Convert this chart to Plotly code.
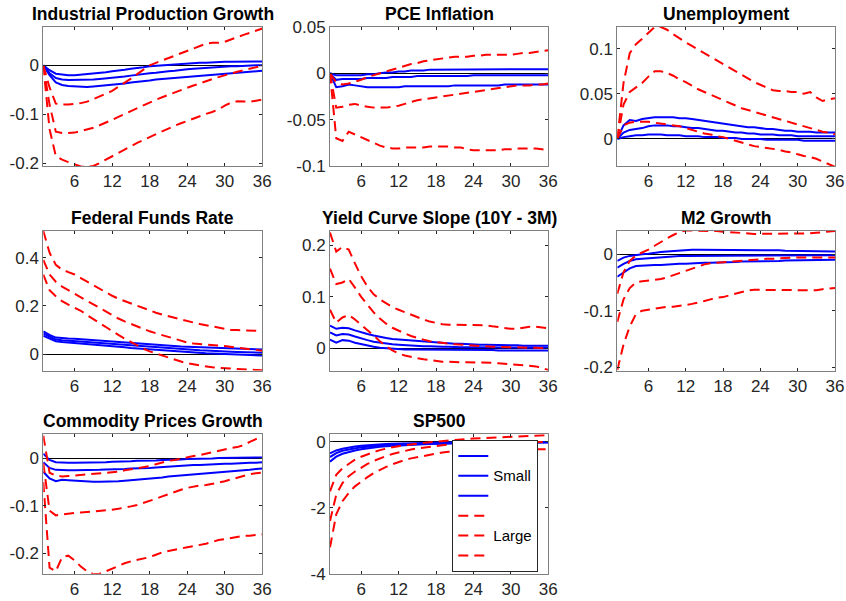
import plotly.graph_objects as go

# Impulse responses over a 36-month horizon: "Small" (blue, solid) and
# "Large" (red, dashed) shocks, each with lower band, median and upper band.
HORIZON = list(range(1, 37))
X_TICKS = [6, 12, 18, 24, 30, 36]

# ---- Industrial Production Growth ----
ip_small_lo = [0, -0.020, -0.035, -0.040, -0.042, -0.043, -0.044, -0.044, -0.043, -0.042, -0.041, -0.040,
               -0.038, -0.037, -0.035, -0.034, -0.032, -0.031, -0.029, -0.028, -0.027, -0.025, -0.024, -0.023,
               -0.022, -0.021, -0.020, -0.019, -0.018, -0.017, -0.016, -0.015, -0.014, -0.013, -0.012, -0.011]
ip_small_md = [0, -0.016, -0.026, -0.029, -0.030, -0.030, -0.030, -0.029, -0.029, -0.028, -0.027, -0.026,
               -0.024, -0.023, -0.021, -0.019, -0.018, -0.016, -0.015, -0.013, -0.012, -0.011, -0.009, -0.008,
               -0.007, -0.006, -0.005, -0.004, -0.004, -0.003, -0.002, -0.002, -0.001, -0.001, 0.000, 0.000]
ip_small_hi = [0, -0.010, -0.017, -0.019, -0.020, -0.020, -0.019, -0.018, -0.017, -0.015, -0.014, -0.012,
               -0.011, -0.009, -0.007, -0.006, -0.004, -0.002, -0.001, 0.000, 0.001, 0.002, 0.003, 0.003,
               0.004, 0.005, 0.005, 0.006, 0.006, 0.007, 0.007, 0.007, 0.008, 0.008, 0.008, 0.008]
ip_large_lo = [0, -0.130, -0.185, -0.192, -0.197, -0.202, -0.206, -0.207, -0.205, -0.199, -0.192, -0.185,
               -0.178, -0.171, -0.164, -0.158, -0.152, -0.146, -0.140, -0.134, -0.128, -0.123, -0.118, -0.113,
               -0.108, -0.104, -0.099, -0.095, -0.090, -0.082, -0.076, -0.073, -0.073, -0.074, -0.072, -0.070]
ip_large_md = [0, -0.080, -0.135, -0.138, -0.138, -0.137, -0.134, -0.131, -0.127, -0.122, -0.117, -0.111,
               -0.105, -0.099, -0.093, -0.087, -0.081, -0.075, -0.070, -0.065, -0.060, -0.055, -0.050, -0.046,
               -0.041, -0.037, -0.032, -0.028, -0.024, -0.020, -0.017, -0.013, -0.010, -0.007, -0.004, -0.001]
ip_large_hi = [0, -0.045, -0.078, -0.080, -0.080, -0.079, -0.077, -0.074, -0.069, -0.064, -0.058, -0.052,
               -0.044, -0.036, -0.027, -0.018, -0.009, 0.000, 0.005, 0.010, 0.015, 0.020, 0.025, 0.030,
               0.035, 0.040, 0.044, 0.046, 0.046, 0.048, 0.053, 0.058, 0.062, 0.066, 0.070, 0.075]
ip_yticks = [-0.2, -0.1, 0]

# ---- PCE Inflation ----
pce_small_lo = [0, -0.015, -0.014, -0.012, -0.013, -0.014, -0.015, -0.015, -0.015, -0.015, -0.015, -0.015,
                -0.014, -0.014, -0.014, -0.014, -0.014, -0.014, -0.014, -0.014, -0.013, -0.013, -0.013, -0.013,
                -0.013, -0.013, -0.013, -0.013, -0.012, -0.012, -0.012, -0.012, -0.012, -0.012, -0.012, -0.012]
pce_small_md = [0, -0.007, -0.006, -0.006, -0.006, -0.006, -0.005, -0.005, -0.005, -0.005, -0.004, -0.004,
                -0.004, -0.004, -0.003, -0.003, -0.003, -0.003, -0.003, -0.003, -0.003, -0.003, -0.003, -0.002,
                -0.002, -0.002, -0.002, -0.002, -0.002, -0.002, -0.002, -0.002, -0.002, -0.002, -0.002, -0.002]
pce_small_hi = [0, -0.002, -0.002, -0.002, -0.002, -0.002, -0.001, -0.001, 0.000, 0.001, 0.001, 0.002,
                0.002, 0.003, 0.003, 0.003, 0.004, 0.004, 0.004, 0.004, 0.004, 0.004, 0.004, 0.004,
                0.004, 0.004, 0.004, 0.004, 0.004, 0.004, 0.004, 0.0045, 0.0045, 0.0045, 0.0045, 0.0045]
pce_large_lo = [0, -0.070, -0.073, -0.063, -0.066, -0.069, -0.072, -0.075, -0.078, -0.080, -0.081, -0.081,
                -0.080, -0.080, -0.080, -0.080, -0.079, -0.079, -0.079, -0.079, -0.080, -0.080, -0.082, -0.083,
                -0.083, -0.083, -0.083, -0.083, -0.082, -0.082, -0.081, -0.081, -0.081, -0.081, -0.082, -0.083]
pce_large_md = [0, -0.037, -0.036, -0.034, -0.033, -0.035, -0.036, -0.037, -0.037, -0.037, -0.036, -0.035,
                -0.033, -0.031, -0.029, -0.028, -0.027, -0.026, -0.025, -0.024, -0.023, -0.022, -0.021, -0.020,
                -0.019, -0.018, -0.017, -0.016, -0.015, -0.014, -0.013, -0.013, -0.013, -0.012, -0.012, -0.011]
pce_large_hi = [0, -0.010, -0.012, -0.011, -0.009, -0.007, -0.004, -0.002, 0.000, 0.002, 0.004, 0.006,
                0.008, 0.010, 0.011, 0.013, 0.014, 0.015, 0.016, 0.017, 0.018, 0.018, 0.018, 0.019,
                0.019, 0.020, 0.020, 0.020, 0.020, 0.020, 0.021, 0.022, 0.022, 0.023, 0.024, 0.025]
pce_yticks = [-0.1, -0.05, 0, 0.05]

# ---- Unemployment ----
un_small_lo = [0, 0.002, 0.003, 0.004, 0.004, 0.005, 0.005, 0.005, 0.004, 0.004, 0.004, 0.003,
               0.003, 0.003, 0.002, 0.002, 0.002, 0.001, 0.001, 0.001, 0.000, 0.000, 0.000, 0.000,
               -0.001, -0.001, -0.001, -0.001, -0.001, -0.001, -0.002, -0.002, -0.002, -0.002, -0.002, -0.002]
un_small_md = [0, 0.007, 0.010, 0.011, 0.012, 0.014, 0.015, 0.015, 0.015, 0.014, 0.014, 0.013,
               0.012, 0.012, 0.011, 0.010, 0.009, 0.009, 0.008, 0.007, 0.007, 0.006, 0.006, 0.005,
               0.005, 0.005, 0.004, 0.004, 0.004, 0.003, 0.003, 0.003, 0.003, 0.003, 0.003, 0.003]
un_small_hi = [0, 0.015, 0.021, 0.020, 0.022, 0.023, 0.024, 0.024, 0.024, 0.024, 0.023, 0.023,
               0.022, 0.021, 0.020, 0.019, 0.018, 0.017, 0.016, 0.015, 0.014, 0.013, 0.013, 0.012,
               0.011, 0.011, 0.010, 0.009, 0.009, 0.008, 0.008, 0.008, 0.007, 0.007, 0.007, 0.007]
un_large_lo = [0, 0.015, 0.018, 0.019, 0.019, 0.019, 0.018, 0.017, 0.016, 0.015, 0.014, 0.012,
               0.010, 0.008, 0.006, 0.005, 0.003, 0.002, 0.000, -0.002, -0.004, -0.006, -0.008, -0.009,
               -0.010, -0.011, -0.012, -0.014, -0.015, -0.017, -0.019, -0.020, -0.022, -0.025, -0.028, -0.031]
un_large_md = [0, 0.038, 0.052, 0.057, 0.062, 0.069, 0.075, 0.075, 0.073, 0.070, 0.066, 0.063,
               0.059, 0.055, 0.052, 0.049, 0.046, 0.043, 0.040, 0.037, 0.034, 0.032, 0.030, 0.028,
               0.026, 0.024, 0.022, 0.020, 0.018, 0.016, 0.014, 0.012, 0.010, 0.008, 0.007, 0.005]
un_large_hi = [0, 0.062, 0.095, 0.105, 0.111, 0.118, 0.124, 0.124, 0.121, 0.116, 0.111, 0.107,
               0.103, 0.099, 0.095, 0.091, 0.087, 0.083, 0.079, 0.075, 0.071, 0.067, 0.063, 0.060,
               0.057, 0.054, 0.053, 0.053, 0.052, 0.052, 0.050, 0.052, 0.046, 0.042, 0.044, 0.045]
un_yticks = [0, 0.05, 0.1]

# ---- Federal Funds Rate ----
ffr_small_lo = [0.077, 0.064, 0.054, 0.051, 0.049, 0.047, 0.045, 0.043, 0.040, 0.038, 0.036, 0.033,
                0.031, 0.029, 0.026, 0.024, 0.022, 0.020, 0.018, 0.016, 0.014, 0.012, 0.010, 0.009,
                0.007, 0.006, 0.004, 0.003, 0.002, 0.001, 0.000, -0.001, -0.002, -0.003, -0.004, -0.005]
ffr_small_md = [0.086, 0.072, 0.061, 0.058, 0.057, 0.055, 0.053, 0.051, 0.049, 0.047, 0.045, 0.043,
                0.041, 0.039, 0.037, 0.035, 0.033, 0.031, 0.029, 0.027, 0.025, 0.023, 0.022, 0.020,
                0.019, 0.017, 0.016, 0.014, 0.013, 0.012, 0.011, 0.010, 0.009, 0.008, 0.007, 0.006]
ffr_small_hi = [0.095, 0.080, 0.069, 0.066, 0.065, 0.064, 0.062, 0.060, 0.058, 0.056, 0.054, 0.052,
                0.050, 0.048, 0.046, 0.044, 0.042, 0.040, 0.038, 0.037, 0.035, 0.034, 0.032, 0.031,
                0.030, 0.029, 0.028, 0.027, 0.026, 0.025, 0.024, 0.023, 0.022, 0.021, 0.020, 0.020]
ffr_large_lo = [0.330, 0.265, 0.240, 0.220, 0.205, 0.192, 0.180, 0.162, 0.145, 0.128, 0.111, 0.095,
                0.080, 0.065, 0.050, 0.036, 0.023, 0.012, 0.003, -0.006, -0.014, -0.022, -0.030, -0.037,
                -0.042, -0.047, -0.051, -0.054, -0.056, -0.058, -0.060, -0.062, -0.063, -0.064, -0.065, -0.066]
ffr_large_md = [0.390, 0.330, 0.300, 0.280, 0.265, 0.250, 0.235, 0.220, 0.205, 0.190, 0.175, 0.160,
                0.148, 0.136, 0.125, 0.114, 0.104, 0.095, 0.087, 0.079, 0.071, 0.063, 0.055, 0.049,
                0.045, 0.042, 0.040, 0.038, 0.036, 0.034, 0.031, 0.028, 0.025, 0.021, 0.018, 0.015]
ffr_large_hi = [0.510, 0.420, 0.370, 0.350, 0.340, 0.330, 0.315, 0.300, 0.285, 0.270, 0.255, 0.242,
                0.230, 0.220, 0.210, 0.200, 0.190, 0.180, 0.172, 0.164, 0.157, 0.150, 0.143, 0.137,
                0.131, 0.125, 0.120, 0.115, 0.110, 0.105, 0.101, 0.100, 0.099, 0.098, 0.097, 0.096]
ffr_yticks = [0, 0.2, 0.4]

# ---- Yield Curve Slope (10Y - 3M) ----
yc_small_lo = [0.017, 0.011, 0.016, 0.015, 0.011, 0.008, 0.005, 0.003, 0.001, 0.000, -0.001, -0.001,
               -0.002, -0.002, -0.002, -0.003, -0.003, -0.003, -0.003, -0.003, -0.003, -0.003, -0.003, -0.003,
               -0.003, -0.003, -0.003, -0.004, -0.004, -0.004, -0.004, -0.004, -0.004, -0.004, -0.004, -0.004]
yc_small_md = [0.031, 0.025, 0.028, 0.027, 0.023, 0.019, 0.016, 0.013, 0.011, 0.009, 0.008, 0.007,
               0.006, 0.005, 0.005, 0.004, 0.004, 0.003, 0.003, 0.003, 0.002, 0.002, 0.002, 0.002,
               0.002, 0.002, 0.002, 0.001, 0.001, 0.001, 0.001, 0.001, 0.001, 0.001, 0.001, 0.001]
yc_small_hi = [0.044, 0.038, 0.040, 0.039, 0.035, 0.031, 0.028, 0.025, 0.022, 0.020, 0.018, 0.017,
               0.016, 0.015, 0.014, 0.013, 0.012, 0.011, 0.010, 0.010, 0.009, 0.009, 0.008, 0.008,
               0.007, 0.007, 0.007, 0.006, 0.006, 0.006, 0.006, 0.005, 0.005, 0.005, 0.005, 0.005]
yc_large_lo = [0.075, 0.050, 0.060, 0.065, 0.056, 0.046, 0.036, 0.025, 0.014, 0.004, -0.004, -0.010,
               -0.014, -0.017, -0.019, -0.021, -0.023, -0.025, -0.026, -0.026, -0.027, -0.027, -0.027, -0.027,
               -0.027, -0.028, -0.028, -0.029, -0.030, -0.031, -0.032, -0.033, -0.034, -0.035, -0.038, -0.042]
yc_large_md = [0.155, 0.125, 0.128, 0.135, 0.118, 0.100, 0.085, 0.070, 0.058, 0.048, 0.040, 0.034,
               0.029, 0.024, 0.020, 0.017, 0.014, 0.012, 0.010, 0.009, 0.008, 0.007, 0.006, 0.005,
               0.004, 0.004, 0.003, 0.003, 0.002, 0.002, 0.002, 0.001, 0.001, 0.001, 0.000, 0.000]
yc_large_hi = [0.225, 0.188, 0.197, 0.192, 0.165, 0.140, 0.120, 0.105, 0.095, 0.087, 0.080, 0.075,
               0.070, 0.065, 0.060, 0.056, 0.052, 0.049, 0.047, 0.046, 0.046, 0.046, 0.046, 0.046,
               0.046, 0.045, 0.043, 0.041, 0.039, 0.038, 0.038, 0.040, 0.042, 0.042, 0.041, 0.039]
yc_yticks = [0, 0.1, 0.2]

# ---- M2 Growth ----
m2_small_lo = [-0.040, -0.032, -0.025, -0.021, -0.020, -0.020, -0.019, -0.019, -0.018, -0.018, -0.017, -0.017,
               -0.016, -0.016, -0.015, -0.015, -0.015, -0.014, -0.014, -0.014, -0.013, -0.013, -0.013, -0.012,
               -0.012, -0.012, -0.012, -0.011, -0.011, -0.011, -0.011, -0.010, -0.010, -0.010, -0.010, -0.010]
m2_small_md = [-0.024, -0.017, -0.012, -0.009, -0.008, -0.007, -0.006, -0.005, -0.004, -0.004, -0.003, -0.003,
               -0.003, -0.002, -0.002, -0.002, -0.002, -0.002, -0.002, -0.002, -0.002, -0.002, -0.002, -0.002,
               -0.002, -0.002, -0.002, -0.002, -0.002, -0.002, -0.002, -0.002, -0.002, -0.002, -0.002, -0.002]
m2_small_hi = [-0.012, -0.006, -0.003, -0.001, 0.000, 0.001, 0.003, 0.004, 0.005, 0.006, 0.007, 0.008,
               0.008, 0.008, 0.008, 0.008, 0.008, 0.008, 0.008, 0.008, 0.008, 0.008, 0.007, 0.007,
               0.007, 0.007, 0.007, 0.006, 0.006, 0.006, 0.006, 0.006, 0.006, 0.005, 0.005, 0.005]
m2_large_lo = [-0.205, -0.160, -0.128, -0.106, -0.100, -0.098, -0.096, -0.094, -0.093, -0.093, -0.092, -0.090,
               -0.088, -0.086, -0.083, -0.080, -0.077, -0.076, -0.073, -0.069, -0.066, -0.064, -0.063, -0.063,
               -0.063, -0.063, -0.063, -0.063, -0.063, -0.063, -0.063, -0.063, -0.064, -0.062, -0.061, -0.060]
m2_large_md = [-0.120, -0.080, -0.060, -0.050, -0.048, -0.047, -0.046, -0.044, -0.041, -0.037, -0.033, -0.029,
               -0.025, -0.021, -0.018, -0.016, -0.015, -0.014, -0.013, -0.012, -0.011, -0.010, -0.009, -0.008,
               -0.008, -0.008, -0.007, -0.007, -0.006, -0.006, -0.006, -0.007, -0.007, -0.006, -0.006, -0.006]
m2_large_hi = [-0.070, -0.032, -0.012, -0.002, 0.003, 0.008, 0.015, 0.022, 0.028, 0.034, 0.039, 0.042,
               0.042, 0.042, 0.042, 0.042, 0.041, 0.040, 0.039, 0.038, 0.037, 0.036, 0.036, 0.036,
               0.036, 0.036, 0.037, 0.037, 0.037, 0.037, 0.037, 0.037, 0.038, 0.039, 0.040, 0.041]
m2_yticks = [-0.2, -0.1, 0]

# ---- Commodity Prices Growth ----
cp_small_lo = [-0.028, -0.042, -0.048, -0.045, -0.046, -0.047, -0.048, -0.049, -0.049, -0.049, -0.049, -0.048,
               -0.048, -0.047, -0.046, -0.045, -0.044, -0.043, -0.041, -0.040, -0.038, -0.037, -0.036, -0.035,
               -0.034, -0.033, -0.032, -0.031, -0.030, -0.029, -0.027, -0.026, -0.025, -0.024, -0.022, -0.021]
cp_small_md = [-0.008, -0.020, -0.024, -0.025, -0.025, -0.025, -0.025, -0.025, -0.024, -0.024, -0.023, -0.023,
               -0.022, -0.022, -0.021, -0.021, -0.020, -0.020, -0.019, -0.018, -0.017, -0.016, -0.016, -0.015,
               -0.014, -0.014, -0.013, -0.012, -0.012, -0.011, -0.011, -0.010, -0.010, -0.009, -0.009, -0.008]
cp_small_hi = [0.010, -0.003, -0.008, -0.009, -0.009, -0.009, -0.009, -0.009, -0.008, -0.008, -0.008, -0.007,
               -0.007, -0.006, -0.006, -0.005, -0.005, -0.004, -0.004, -0.003, -0.003, -0.002, -0.002, -0.001,
               -0.001, 0.000, 0.000, 0.000, 0.001, 0.001, 0.001, 0.001, 0.002, 0.002, 0.002, 0.002]
cp_large_lo = [-0.050, -0.230, -0.238, -0.208, -0.205, -0.215, -0.228, -0.238, -0.244, -0.243, -0.238, -0.232,
               -0.226, -0.221, -0.217, -0.214, -0.212, -0.208, -0.203, -0.198, -0.195, -0.193, -0.190, -0.187,
               -0.185, -0.183, -0.180, -0.176, -0.172, -0.170, -0.168, -0.165, -0.163, -0.163, -0.162, -0.160]
cp_large_md = [-0.010, -0.110, -0.120, -0.118, -0.116, -0.115, -0.114, -0.113, -0.112, -0.111, -0.110, -0.108,
               -0.106, -0.104, -0.101, -0.098, -0.094, -0.090, -0.085, -0.080, -0.075, -0.070, -0.066, -0.062,
               -0.059, -0.057, -0.056, -0.054, -0.051, -0.048, -0.044, -0.040, -0.036, -0.033, -0.031, -0.030]
cp_large_hi = [0.048, -0.030, -0.036, -0.038, -0.037, -0.036, -0.035, -0.034, -0.033, -0.032, -0.031, -0.030,
               -0.028, -0.025, -0.023, -0.021, -0.019, -0.016, -0.012, -0.008, -0.005, -0.003, 0.000, 0.003,
               0.005, 0.007, 0.010, 0.014, 0.017, 0.019, 0.022, 0.024, 0.028, 0.035, 0.041, 0.047]
cp_yticks = [-0.2, -0.1, 0]

# ---- SP500 ----
sp_small_lo = [-0.60, -0.45, -0.36, -0.30, -0.26, -0.225, -0.195, -0.17, -0.15, -0.133, -0.12, -0.108,
               -0.098, -0.089, -0.081, -0.074, -0.068, -0.062, -0.057, -0.052, -0.048, -0.044, -0.041, -0.038,
               -0.035, -0.032, -0.030, -0.028, -0.026, -0.024, -0.022, -0.021, -0.020, -0.019, -0.018, -0.017]
sp_small_md = [-0.46, -0.34, -0.27, -0.23, -0.19, -0.165, -0.145, -0.125, -0.11, -0.097, -0.086, -0.077,
               -0.069, -0.062, -0.056, -0.050, -0.045, -0.041, -0.037, -0.033, -0.030, -0.027, -0.025, -0.022,
               -0.020, -0.018, -0.017, -0.015, -0.014, -0.013, -0.012, -0.011, -0.010, -0.009, -0.008, -0.008]
sp_small_hi = [-0.35, -0.26, -0.21, -0.17, -0.14, -0.12, -0.10, -0.085, -0.072, -0.062, -0.054, -0.047,
               -0.041, -0.036, -0.031, -0.027, -0.024, -0.021, -0.018, -0.016, -0.014, -0.012, -0.010, -0.009,
               -0.008, -0.007, -0.006, -0.005, -0.004, -0.003, -0.003, -0.002, -0.002, -0.001, -0.001, 0.000]
sp_large_lo = [-3.20, -2.20, -1.80, -1.55, -1.35, -1.20, -1.07, -0.95, -0.85, -0.76, -0.68, -0.61,
               -0.55, -0.50, -0.46, -0.42, -0.38, -0.35, -0.32, -0.30, -0.28, -0.27, -0.26, -0.25,
               -0.25, -0.24, -0.24, -0.23, -0.23, -0.23, -0.22, -0.22, -0.22, -0.22, -0.22, -0.22]
sp_large_md = [-2.40, -1.60, -1.25, -1.04, -0.90, -0.78, -0.67, -0.58, -0.50, -0.43, -0.37, -0.32,
               -0.27, -0.23, -0.20, -0.17, -0.14, -0.12, -0.10, -0.08, -0.07, -0.06, -0.05, -0.04,
               -0.03, -0.03, -0.02, -0.02, -0.01, -0.01, -0.01, 0.00, 0.00, 0.00, 0.00, 0.00]
sp_large_hi = [-1.50, -1.00, -0.80, -0.66, -0.54, -0.45, -0.37, -0.31, -0.25, -0.20, -0.16, -0.13,
               -0.10, -0.07, -0.05, -0.03, -0.01, 0.01, 0.03, 0.05, 0.07, 0.08, 0.09, 0.10,
               0.11, 0.12, 0.13, 0.13, 0.14, 0.15, 0.16, 0.17, 0.18, 0.19, 0.20, 0.21]
sp_yticks = [-4, -2, 0]

TITLES = ["Industrial Production Growth", "PCE Inflation", "Unemployment",
          "Federal Funds Rate", "Yield Curve Slope (10Y - 3M)", "M2 Growth",
          "Commodity Prices Growth", "SP500"]
SMALL = [(ip_small_lo, ip_small_md, ip_small_hi), (pce_small_lo, pce_small_md, pce_small_hi),
         (un_small_lo, un_small_md, un_small_hi), (ffr_small_lo, ffr_small_md, ffr_small_hi),
         (yc_small_lo, yc_small_md, yc_small_hi), (m2_small_lo, m2_small_md, m2_small_hi),
         (cp_small_lo, cp_small_md, cp_small_hi), (sp_small_lo, sp_small_md, sp_small_hi)]
LARGE = [(ip_large_lo, ip_large_md, ip_large_hi), (pce_large_lo, pce_large_md, pce_large_hi),
         (un_large_lo, un_large_md, un_large_hi), (ffr_large_lo, ffr_large_md, ffr_large_hi),
         (yc_large_lo, yc_large_md, yc_large_hi), (m2_large_lo, m2_large_md, m2_large_hi),
         (cp_large_lo, cp_large_md, cp_large_hi), (sp_large_lo, sp_large_md, sp_large_hi)]
Y_TICKS = [ip_yticks, pce_yticks, un_yticks, ffr_yticks, yc_yticks, m2_yticks, cp_yticks, sp_yticks]

# ---- layout geometry (pixels in an 846 x 601 canvas) ----
W, H = 846, 601
COL_X = [(43.3, 262.3), (330.0, 548.3), (617.3, 835.0)]
ROW_Y = [(27.0, 166.0), (230.5, 370.5), (434.3, 573.7)]
Y_RANGES = [(-0.205, 0.078), (-0.1, 0.05), (-0.03, 0.124),
            (-0.067, 0.512), (-0.043, 0.229), (-0.206, 0.042),
            (-0.243, 0.051), (-4.0, 0.23)]

FONT = "Liberation Sans, Arial, Helvetica, sans-serif"
BLUE = "#0000FF"
RED = "#FF0000"
FRAME = "#808080"
TEXT = "#262626"
DASH = "10px,6px"
TICK_SIZE = 17

fig = go.Figure()
layout = dict(
    template="none",
    width=W, height=H,
    margin=dict(l=0, r=0, t=0, b=0, autoexpand=False),
    paper_bgcolor="white", plot_bgcolor="white",
    font=dict(family=FONT, size=TICK_SIZE, color=TEXT),
    annotations=[],
)

for i, title in enumerate(TITLES):
    r, c = divmod(i, 3)
    n = "" if i == 0 else str(i + 1)
    xa, ya = "x" + n, "y" + n
    x0, x1 = COL_X[c]
    y0, y1 = ROW_Y[r]
    in_legend = (i == 7)

    for k, series in enumerate(SMALL[i]):
        fig.add_trace(go.Scatter(
            x=HORIZON, y=series, xaxis=xa, yaxis=ya, mode="lines",
            line=dict(color=BLUE, width=2),
            name='<span style="font-size:15px">Small</span>' if k == 1 else " ",
            showlegend=in_legend, hoverinfo="skip"))
    for k, series in enumerate(LARGE[i]):
        fig.add_trace(go.Scatter(
            x=HORIZON, y=series, xaxis=xa, yaxis=ya, mode="lines",
            line=dict(color=RED, width=2, dash=DASH),
            name='<span style="font-size:15px">Large</span>' if k == 1 else " ",
            showlegend=in_legend, hoverinfo="skip"))

    layout["xaxis" + n] = dict(
        domain=[x0 / W, x1 / W], anchor=ya, range=[1, 36],
        tickvals=X_TICKS, ticktext=[str(v) for v in X_TICKS],
        ticks="inside", ticklen=3, tickcolor=TEXT, tickwidth=1,
        showline=True, linecolor=FRAME, linewidth=1, mirror="ticks",
        showgrid=False, zeroline=False, fixedrange=True, automargin=False,
        tickfont=dict(family=FONT, size=TICK_SIZE, color=TEXT),
    )
    layout["yaxis" + n] = dict(
        domain=[1 - y1 / H, 1 - y0 / H], anchor=xa, range=list(Y_RANGES[i]),
        tickvals=Y_TICKS[i], ticktext=[f"{v:g}" for v in Y_TICKS[i]],
        ticks="inside", ticklen=3, tickcolor=TEXT, tickwidth=1,
        showline=True, linecolor=FRAME, linewidth=1, mirror="ticks",
        showgrid=False, zeroline=True, zerolinecolor="#000000", zerolinewidth=1,
        fixedrange=True, automargin=False,
        tickfont=dict(family=FONT, size=TICK_SIZE, color=TEXT),
    )
    layout["annotations"].append(dict(
        text="<b>" + title + "</b>", xref="paper", yref="paper",
        x=(x0 + x1) / 2 / W, y=1 - y0 / H, xanchor="center", yanchor="bottom",
        yshift=1, showarrow=False,
        font=dict(family=FONT, size=17.5, color="#000000"),
    ))

layout["legend"] = dict(
    x=452.3 / W, y=1 - 440.0 / H, xanchor="left", yanchor="top",
    bgcolor="white", bordercolor=TEXT, borderwidth=1,
    font=dict(family=FONT, size=13, color="#000000"),
    itemwidth=30, tracegroupgap=0,
)
layout["showlegend"] = True

fig.update_layout(**layout)
fig.write_html("out.html")
